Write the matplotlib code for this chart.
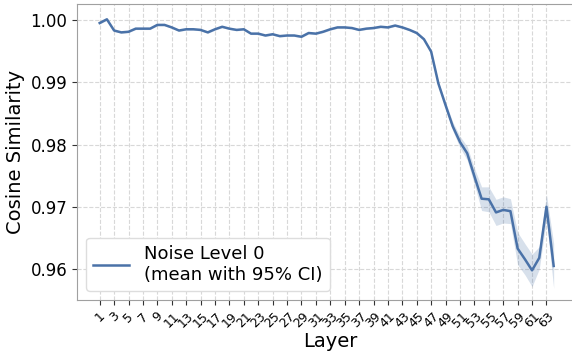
import numpy as np
import matplotlib.pyplot as plt

layers = np.arange(1, 65)
mean_sim = [
    0.9995, 1.0001, 0.9983, 0.9980, 0.9981, 0.9986, 0.9986, 0.9986,
    0.9992, 0.9992, 0.9988, 0.9983, 0.9985, 0.9985, 0.9984, 0.9980,
    0.9985, 0.9989, 0.9986, 0.9984, 0.9985, 0.9978, 0.9978, 0.9975,
    0.9977, 0.9974, 0.9975, 0.9975, 0.9973, 0.9979, 0.9978, 0.9981,
    0.9985, 0.9988, 0.9988, 0.9987, 0.9984, 0.9986, 0.9987, 0.9989,
    0.9988, 0.9991, 0.9988, 0.9984, 0.9979, 0.9969, 0.9949, 0.9898,
    0.9863, 0.9829, 0.9804, 0.9786, 0.9749, 0.9713, 0.9712, 0.9691,
    0.9695, 0.9693, 0.9633, 0.9616, 0.9598, 0.9618, 0.9700, 0.9605,
]
ci_half = [0.00015] * 44 + [
    0.0002, 0.0002, 0.00025, 0.0003,
    0.0005, 0.0007, 0.0009, 0.0011, 0.0013, 0.0019, 0.0020, 0.0021,
    0.0021, 0.0020, 0.0026, 0.0025, 0.0026, 0.0018, 0.0020, 0.0036,
]
tick_layers = np.arange(1, 64, 2)

mean_sim = np.array(mean_sim)
ci_half = np.array(ci_half)
color = '#4a72a8'

fig = plt.figure(figsize=(5.72, 3.56), dpi=100)
# the right spine sits just past the image edge in the reference
ax = fig.add_axes([0.1346, 0.157, 0.885, 0.832])

ax.fill_between(layers, mean_sim - ci_half, mean_sim + ci_half,
                color=color, alpha=0.22, linewidth=0)
ax.plot(layers, mean_sim, color=color, linewidth=1.8,
        label='Noise Level 0\n(mean with 95% CI)')

ax.set_xlim(-2.15, 68.1)
ax.set_ylim(0.95502, 1.00257)
ax.set_xticks(tick_layers)
ax.set_xticklabels([str(t) for t in tick_layers], rotation=45, fontsize=9)
ax.set_yticks([0.96, 0.97, 0.98, 0.99, 1.00])
ax.set_yticklabels(['0.96', '0.97', '0.98', '0.99', '1.00'], fontsize=12)
ax.set_xlabel('Layer', fontsize=14, labelpad=1.5)
ax.set_ylabel('Cosine Similarity', fontsize=14)

ax.grid(True, linestyle='--', color='#d8d8d8', linewidth=0.8)
ax.set_axisbelow(True)
for s in ax.spines.values():
    s.set_color('#a0a0a0')
ax.tick_params(axis='both', color='#333333')

ax.legend(loc='lower left', fontsize=13, framealpha=1,
          edgecolor='#dddddd', handlelength=2.0)

fig.savefig('out.png', dpi=100)
